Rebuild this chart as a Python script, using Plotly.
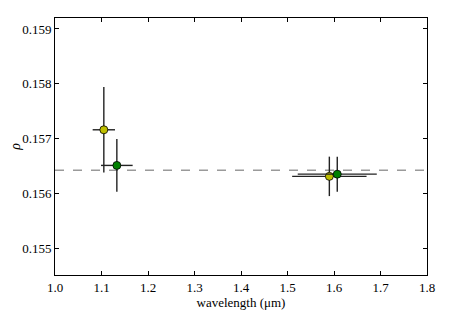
import plotly.graph_objects as go

# data
yellow_x = [1.105, 1.590]
yellow_xerr = [0.024, 0.080]
yellow_y = [0.15716, 0.15631]
yellow_yerr = [0.00078, 0.00036]

green_x = [1.133, 1.607]
green_xerr = [0.034, 0.085]
green_y = [0.15651, 0.15635]
green_yerr = [0.00048, 0.00032]

ref_level = 0.15642

x_ticks = [1.0, 1.1, 1.2, 1.3, 1.4, 1.5, 1.6, 1.7, 1.8]
y_ticks = [0.155, 0.156, 0.157, 0.158, 0.159]

font_family = "Times New Roman"

fig = go.Figure()

fig.add_shape(type="line", xref="paper", x0=0, x1=1, yref="y", y0=ref_level, y1=ref_level,
              line=dict(color="#9a9a9a", width=1.5, dash="dash"), layer="below")

def add_series(xs, xe, ys, ye, color):
    fig.add_trace(go.Scatter(
        x=xs, y=ys, mode="markers",
        marker=dict(color=color, size=8, line=dict(color="black", width=0.8)),
        error_x=dict(type="data", array=xe, color="#222222", thickness=1.4, width=0),
        error_y=dict(type="data", array=ye, color="#222222", thickness=1.4, width=0),
        showlegend=False,
    ))

add_series(yellow_x, yellow_xerr, yellow_y, yellow_yerr, "#bfbf00")
add_series(green_x, green_xerr, green_y, green_yerr, "#008000")

axis_common = dict(
    showgrid=False, zeroline=False, showline=True, linecolor="black", linewidth=1,
    mirror="ticks", ticks="inside", ticklen=4, tickcolor="black", automargin=False,
    tickfont=dict(family=font_family, size=13, color="black"),
)

fig.update_xaxes(range=[1.0, 1.8], tickvals=x_ticks, ticktext=[f"{v:.1f}" for v in x_ticks],
                 title=dict(text="wavelength (μm)", font=dict(family=font_family, size=13, color="black"), standoff=2),
                 **axis_common)
fig.update_yaxes(range=[0.15451, 0.15920], tickvals=y_ticks, ticktext=[f"{v:.3f}" for v in y_ticks],
                 title=dict(text="<i>ρ</i>", font=dict(family=font_family, size=14, color="black"), standoff=8),
                 **axis_common)

fig.update_layout(
    width=455, height=305,
    margin=dict(l=47, r=36, t=10, b=38),
    paper_bgcolor="white", plot_bgcolor="white",
    font=dict(family=font_family),
)

fig.write_html("out.html")
